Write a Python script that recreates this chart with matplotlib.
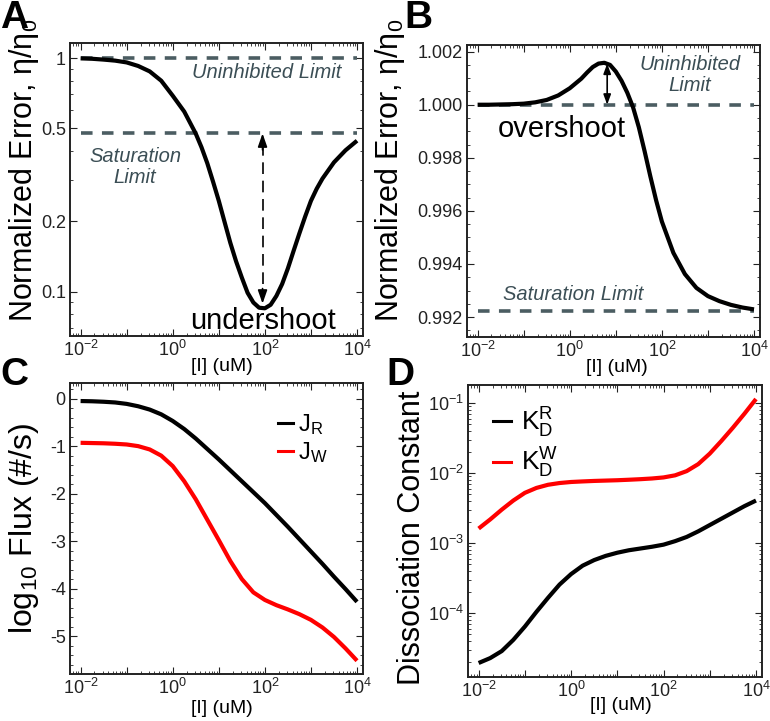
import numpy as np
import matplotlib
matplotlib.use("Agg")
import matplotlib.pyplot as plt
from matplotlib.ticker import LogLocator, NullFormatter, FixedLocator, FixedFormatter, MultipleLocator, FuncFormatter
from matplotlib.lines import Line2D

plt.rcParams['font.family'] = ['Liberation Sans', 'DejaVu Sans']
plt.rcParams['mathtext.fontset'] = 'custom'
plt.rcParams['mathtext.rm'] = 'Liberation Sans'
plt.rcParams['mathtext.it'] = 'Liberation Sans:italic'
plt.rcParams['mathtext.bf'] = 'Liberation Sans:bold'
plt.rcParams['axes.unicode_minus'] = False

# ---------------- data ----------------
# Panel A: normalized error (undershoot case); x = log10 [I] (uM)
log_conc_a = [-2, -1.75, -1.5, -1.25, -1, -0.75, -0.5, -0.25, 0, 0.25, 0.5,
              0.625, 0.75, 0.875, 1.0, 1.125, 1.25, 1.375, 1.5, 1.625, 1.75, 1.875,
              2.0, 2.125, 2.25, 2.375, 2.5, 2.625, 2.75, 2.875, 3.0, 3.125, 3.25,
              3.5, 3.75, 4]
err_a = [0.997, 0.993, 0.985, 0.975, 0.958, 0.925, 0.877, 0.80, 0.69, 0.59, 0.475,
         0.415, 0.355, 0.296, 0.245, 0.199, 0.162, 0.135, 0.115, 0.099, 0.090, 0.0855,
         0.085, 0.088, 0.096, 0.108, 0.126, 0.150, 0.178, 0.210, 0.245, 0.276, 0.305,
         0.358, 0.403, 0.443]
uninhibited_a = 1.0
saturation_a = 0.476
undershoot_x = 89.0
undershoot_top = 0.476
undershoot_bottom = 0.089

# Panel B: normalized error (overshoot case)
log_conc_b = [-2, -1.75, -1.5, -1.25, -1, -0.75, -0.5, -0.25, 0, 0.25,
              0.375, 0.5, 0.625, 0.75, 0.875, 1.0, 1.125, 1.25, 1.375, 1.5, 1.625,
              1.75, 1.875, 2.0, 2.25, 2.5, 2.75, 3.0, 3.25, 3.5, 3.75, 4]
err_b = [1.00000, 1.00000, 1.00001, 1.00002, 1.00004, 1.00009, 1.00018, 1.00035, 1.00062, 1.00098,
         1.00121, 1.00142, 1.00155, 1.00158, 1.00150, 1.00125, 1.00090, 1.00045, 0.99990, 0.99915,
         0.99825, 0.99730, 0.99640, 0.99560, 0.99442, 0.99362, 0.99310, 0.99279, 0.99260, 0.99246,
         0.99236, 0.99229]
uninhibited_b = 1.0
saturation_b = 0.99222
overshoot_x = 6.5
overshoot_top = 1.00155
overshoot_bottom = 1.0

# Panel C: log10 flux
log_conc_c = [-2, -1.75, -1.5, -1.25, -1, -0.75, -0.5, -0.25, 0, 0.25, 0.5, 0.75, 1,
              1.25, 1.5, 1.75, 2, 2.25, 2.5, 2.75, 3, 3.25, 3.5, 3.75, 4]
flux_r = [-0.05, -0.055, -0.065, -0.08, -0.11, -0.16, -0.23, -0.33, -0.47, -0.64, -0.84,
          -1.06, -1.28, -1.51, -1.74, -1.97, -2.20, -2.45, -2.70, -2.96, -3.22, -3.48,
          -3.75, -4.01, -4.28]
flux_w = [-0.93, -0.935, -0.94, -0.95, -0.965, -1.00, -1.07, -1.20, -1.42, -1.74, -2.12,
          -2.55, -2.98, -3.42, -3.80, -4.08, -4.24, -4.35, -4.44, -4.54, -4.66, -4.82,
          -5.02, -5.26, -5.52]

# Panel D: log10 dissociation constants
log_conc_d = [-2, -1.75, -1.5, -1.25, -1, -0.75, -0.5, -0.25, 0, 0.25, 0.5, 0.75, 1,
              1.25, 1.5, 1.75, 2, 2.25, 2.5, 2.75, 3, 3.25, 3.5, 3.75, 4]
kd_r_log10 = [-4.71, -4.64, -4.54, -4.38, -4.19, -3.98, -3.78, -3.59, -3.44, -3.32, -3.24,
              -3.18, -3.135, -3.10, -3.075, -3.05, -3.02, -2.97, -2.91, -2.83, -2.74, -2.65,
              -2.56, -2.47, -2.39]
kd_w_log10 = [-2.79, -2.66, -2.52, -2.39, -2.28, -2.21, -2.165, -2.14, -2.125, -2.117, -2.11,
              -2.105, -2.10, -2.093, -2.085, -2.075, -2.06, -2.03, -1.97, -1.87, -1.72,
              -1.54, -1.35, -1.15, -0.94]

xtick_exps = [-2, 0, 2, 4]
ticks_a = [0.1, 0.2, 0.5, 1]
ticklabels_a = ['0.1', '0.2', '0.5', '1']
ticks_b = [0.992, 0.994, 0.996, 0.998, 1.000, 1.002]
ticks_c = [-5, -4, -3, -2, -1, 0]
ticks_d_exps = [-4, -3, -2, -1]

# ---------------- figure ----------------
W, H = 770, 721
fig = plt.figure(figsize=(W / 100, H / 100), dpi=100)

def add_ax(l, r, t, b):
    return fig.add_axes([l / W, (H - b) / H, (r - l) / W, (b - t) / H])

axA = add_ax(70, 363, 43, 336)
axB = add_ax(467, 760, 45, 337)
axC = add_ax(70, 363, 383, 674)
axD = add_ax(468, 762, 385, 677)

def conc(lg):
    return 10.0 ** np.array(lg)

dash_col = '#4b5d62'
txt_col = '#3b4e55'
lw_curve = 3.0
TICK_FS = 13
LABEL_FS = 22
XLAB_FS = 14

def style(ax):
    ax.set_xscale('log')
    ax.set_xlim(10 ** -2.23, 10 ** 4.13)
    ax.xaxis.set_major_locator(FixedLocator([10.0 ** e for e in range(-2, 5)]))
    ax.xaxis.set_major_formatter(FuncFormatter(
        lambda v, p: (r'$\mathregular{10^{%d}}$' % round(np.log10(v))) if round(np.log10(v)) in xtick_exps else ''))
    ax.xaxis.set_minor_locator(LogLocator(base=10, subs=np.arange(2, 10), numticks=100))
    ax.xaxis.set_minor_formatter(NullFormatter())
    ax.tick_params(which='both', direction='in', top=True, right=True, labelsize=TICK_FS,
                   colors='#222222', pad=3)
    ax.tick_params(which='major', length=5, width=0.8)
    ax.tick_params(which='minor', length=2.5, width=0.6)
    for s in ax.spines.values():
        s.set_linewidth(1.4)
        s.set_color('#222222')

for ax in (axA, axB, axC, axD):
    style(ax)

curve_kw = dict(lw=lw_curve, solid_joinstyle='round', solid_capstyle='butt', zorder=3)

# ---- Panel A ----
axA.set_yscale('log')
axA.set_ylim(0.0647, 1.16)
axA.plot(conc(log_conc_a), err_a, color='black', **curve_kw)
axA.hlines([uninhibited_a, saturation_a], 10 ** -2, 10 ** 4, colors=dash_col, lw=2.6,
           linestyles=(0, (3.2, 2.6)), zorder=2)
axA.yaxis.set_major_locator(FixedLocator(ticks_a))
axA.yaxis.set_major_formatter(FixedFormatter(ticklabels_a))
axA.yaxis.set_minor_locator(LogLocator(base=10, subs=np.arange(2, 10), numticks=100))
axA.yaxis.set_minor_formatter(NullFormatter())
axA.plot([undershoot_x, undershoot_x], [undershoot_top * 0.9, undershoot_bottom * 1.12],
         color='black', lw=1.2, linestyle=(0, (7, 4)), zorder=3)
for tip, tail in [(undershoot_top, undershoot_top * 0.85), (undershoot_bottom, undershoot_bottom * 1.16)]:
    axA.annotate('', xy=(undershoot_x, tip), xytext=(undershoot_x, tail),
                 arrowprops=dict(arrowstyle='-|>,head_length=0.8,head_width=0.28', color='black',
                                 lw=1.2, shrinkA=0, shrinkB=0))
axA.text(0.672, 0.901, 'Uninhibited Limit', transform=axA.transAxes, ha='center', va='center',
         fontsize=14.5, style='italic', color=txt_col)
axA.text(0.222, 0.577, 'Saturation\nLimit', transform=axA.transAxes, ha='center', va='center',
         fontsize=14.5, style='italic', color=txt_col, linespacing=1.15)
axA.text(0.659, 0.052, 'undershoot', transform=axA.transAxes, ha='center', va='center',
         fontsize=21, color='black')
axA.set_ylabel(r'Normalized Error, $\mathregular{\eta/\eta_0}$', fontsize=LABEL_FS)
axA.yaxis.set_label_coords(-0.10, 0.565)
axA.set_xlabel('[I] (uM)', fontsize=XLAB_FS)
axA.xaxis.set_label_coords(0.52, -0.075)

# ---- Panel B ----
axB.set_ylim(0.99125, 1.00225)
axB.plot(conc(log_conc_b), err_b, color='black', **curve_kw)
axB.hlines([uninhibited_b, saturation_b], 10 ** -2, 10 ** 4, colors=dash_col, lw=2.6,
           linestyles=(0, (3.2, 2.6)), zorder=2)
axB.yaxis.set_major_locator(FixedLocator(ticks_b))
axB.yaxis.set_major_formatter(FuncFormatter(lambda v, p: '%.3f' % v))
axB.yaxis.set_minor_locator(MultipleLocator(0.0005))
axB.annotate('', xy=(overshoot_x, overshoot_top), xytext=(overshoot_x, overshoot_bottom),
             arrowprops=dict(arrowstyle='<|-|>,head_length=0.6,head_width=0.22', color='black',
                             lw=1.2, shrinkA=0, shrinkB=0))
axB.text(0.761, 0.897, 'Uninhibited\nLimit', transform=axB.transAxes, ha='center', va='center',
         fontsize=14.5, style='italic', color=txt_col, linespacing=1.15)
axB.text(0.362, 0.144, 'Saturation Limit', transform=axB.transAxes, ha='center', va='center',
         fontsize=14.5, style='italic', color=txt_col)
axB.text(0.324, 0.712, 'overshoot', transform=axB.transAxes, ha='center', va='center',
         fontsize=21, color='black')
axB.set_ylabel(r'Normalized Error, $\mathregular{\eta/\eta_0}$', fontsize=LABEL_FS)
axB.yaxis.set_label_coords(-0.205, 0.57)
axB.set_xlabel('[I] (uM)', fontsize=XLAB_FS)
axB.xaxis.set_label_coords(0.51, -0.075)

# ---- Panel C ----
axC.set_ylim(-5.8, 0.33)
axC.plot(conc(log_conc_c), flux_r, color='black', **curve_kw)
axC.plot(conc(log_conc_c), flux_w, color='#ff0000', **curve_kw)
axC.yaxis.set_major_locator(FixedLocator(ticks_c))
axC.yaxis.set_major_formatter(FuncFormatter(lambda v, p: '%d' % round(v)))
axC.yaxis.set_minor_locator(MultipleLocator(0.2))
hC = [Line2D([], [], color='black', lw=2.2), Line2D([], [], color='#ff0000', lw=2.2)]
axC.legend(hC, [r'J$_\mathregular{R}$', r'J$_\mathregular{W}$'], loc='upper left',
           bbox_to_anchor=(0.71, 0.90), frameon=False, fontsize=17, handlelength=0.65,
           handletextpad=0.2, labelspacing=0.15, borderpad=0, borderaxespad=0)
axC.set_ylabel(r'log$_\mathregular{10}$ Flux (#/s)', fontsize=LABEL_FS + 1)
axC.yaxis.set_label_coords(-0.10, 0.5)
axC.set_xlabel('[I] (uM)', fontsize=XLAB_FS)
axC.xaxis.set_label_coords(0.52, -0.088)

# ---- Panel D ----
axD.set_yscale('log')
axD.set_ylim(10 ** -4.91, 10 ** -0.74)
axD.plot(conc(log_conc_d), 10.0 ** np.array(kd_r_log10), color='black', **curve_kw)
axD.plot(conc(log_conc_d), 10.0 ** np.array(kd_w_log10), color='#ff0000', **curve_kw)
axD.yaxis.set_major_locator(FixedLocator([10.0 ** e for e in ticks_d_exps]))
axD.yaxis.set_major_formatter(FuncFormatter(lambda v, p: r'$\mathregular{10^{%d}}$' % round(np.log10(v))))
axD.yaxis.set_minor_locator(LogLocator(base=10, subs=np.arange(2, 10), numticks=100))
axD.yaxis.set_minor_formatter(NullFormatter())
hD = [Line2D([], [], color='black', lw=2.2), Line2D([], [], color='#ff0000', lw=2.2)]
axD.legend(hD, [r'K$_\mathregular{D}^\mathregular{R}$', r'K$_\mathregular{D}^\mathregular{W}$'],
           loc='upper left', bbox_to_anchor=(0.085, 0.93), frameon=False, fontsize=19,
           handlelength=0.7, handletextpad=0.35, labelspacing=0.25, borderpad=0, borderaxespad=0)
axD.set_ylabel('Dissociation Constant', fontsize=LABEL_FS)
axD.yaxis.set_label_coords(-0.14, 0.476)
axD.set_xlabel('[I] (uM)', fontsize=XLAB_FS)
axD.xaxis.set_label_coords(0.52, -0.068)

# panel letters
for letter, x, y in [('A', 0, 0), ('B', 404, 0), ('C', 0, 357), ('D', 386, 357)]:
    fig.text(x / W, 1 - y / H, letter, ha='left', va='top', fontsize=28, fontweight='bold')

fig.savefig('out.png', dpi=100)
